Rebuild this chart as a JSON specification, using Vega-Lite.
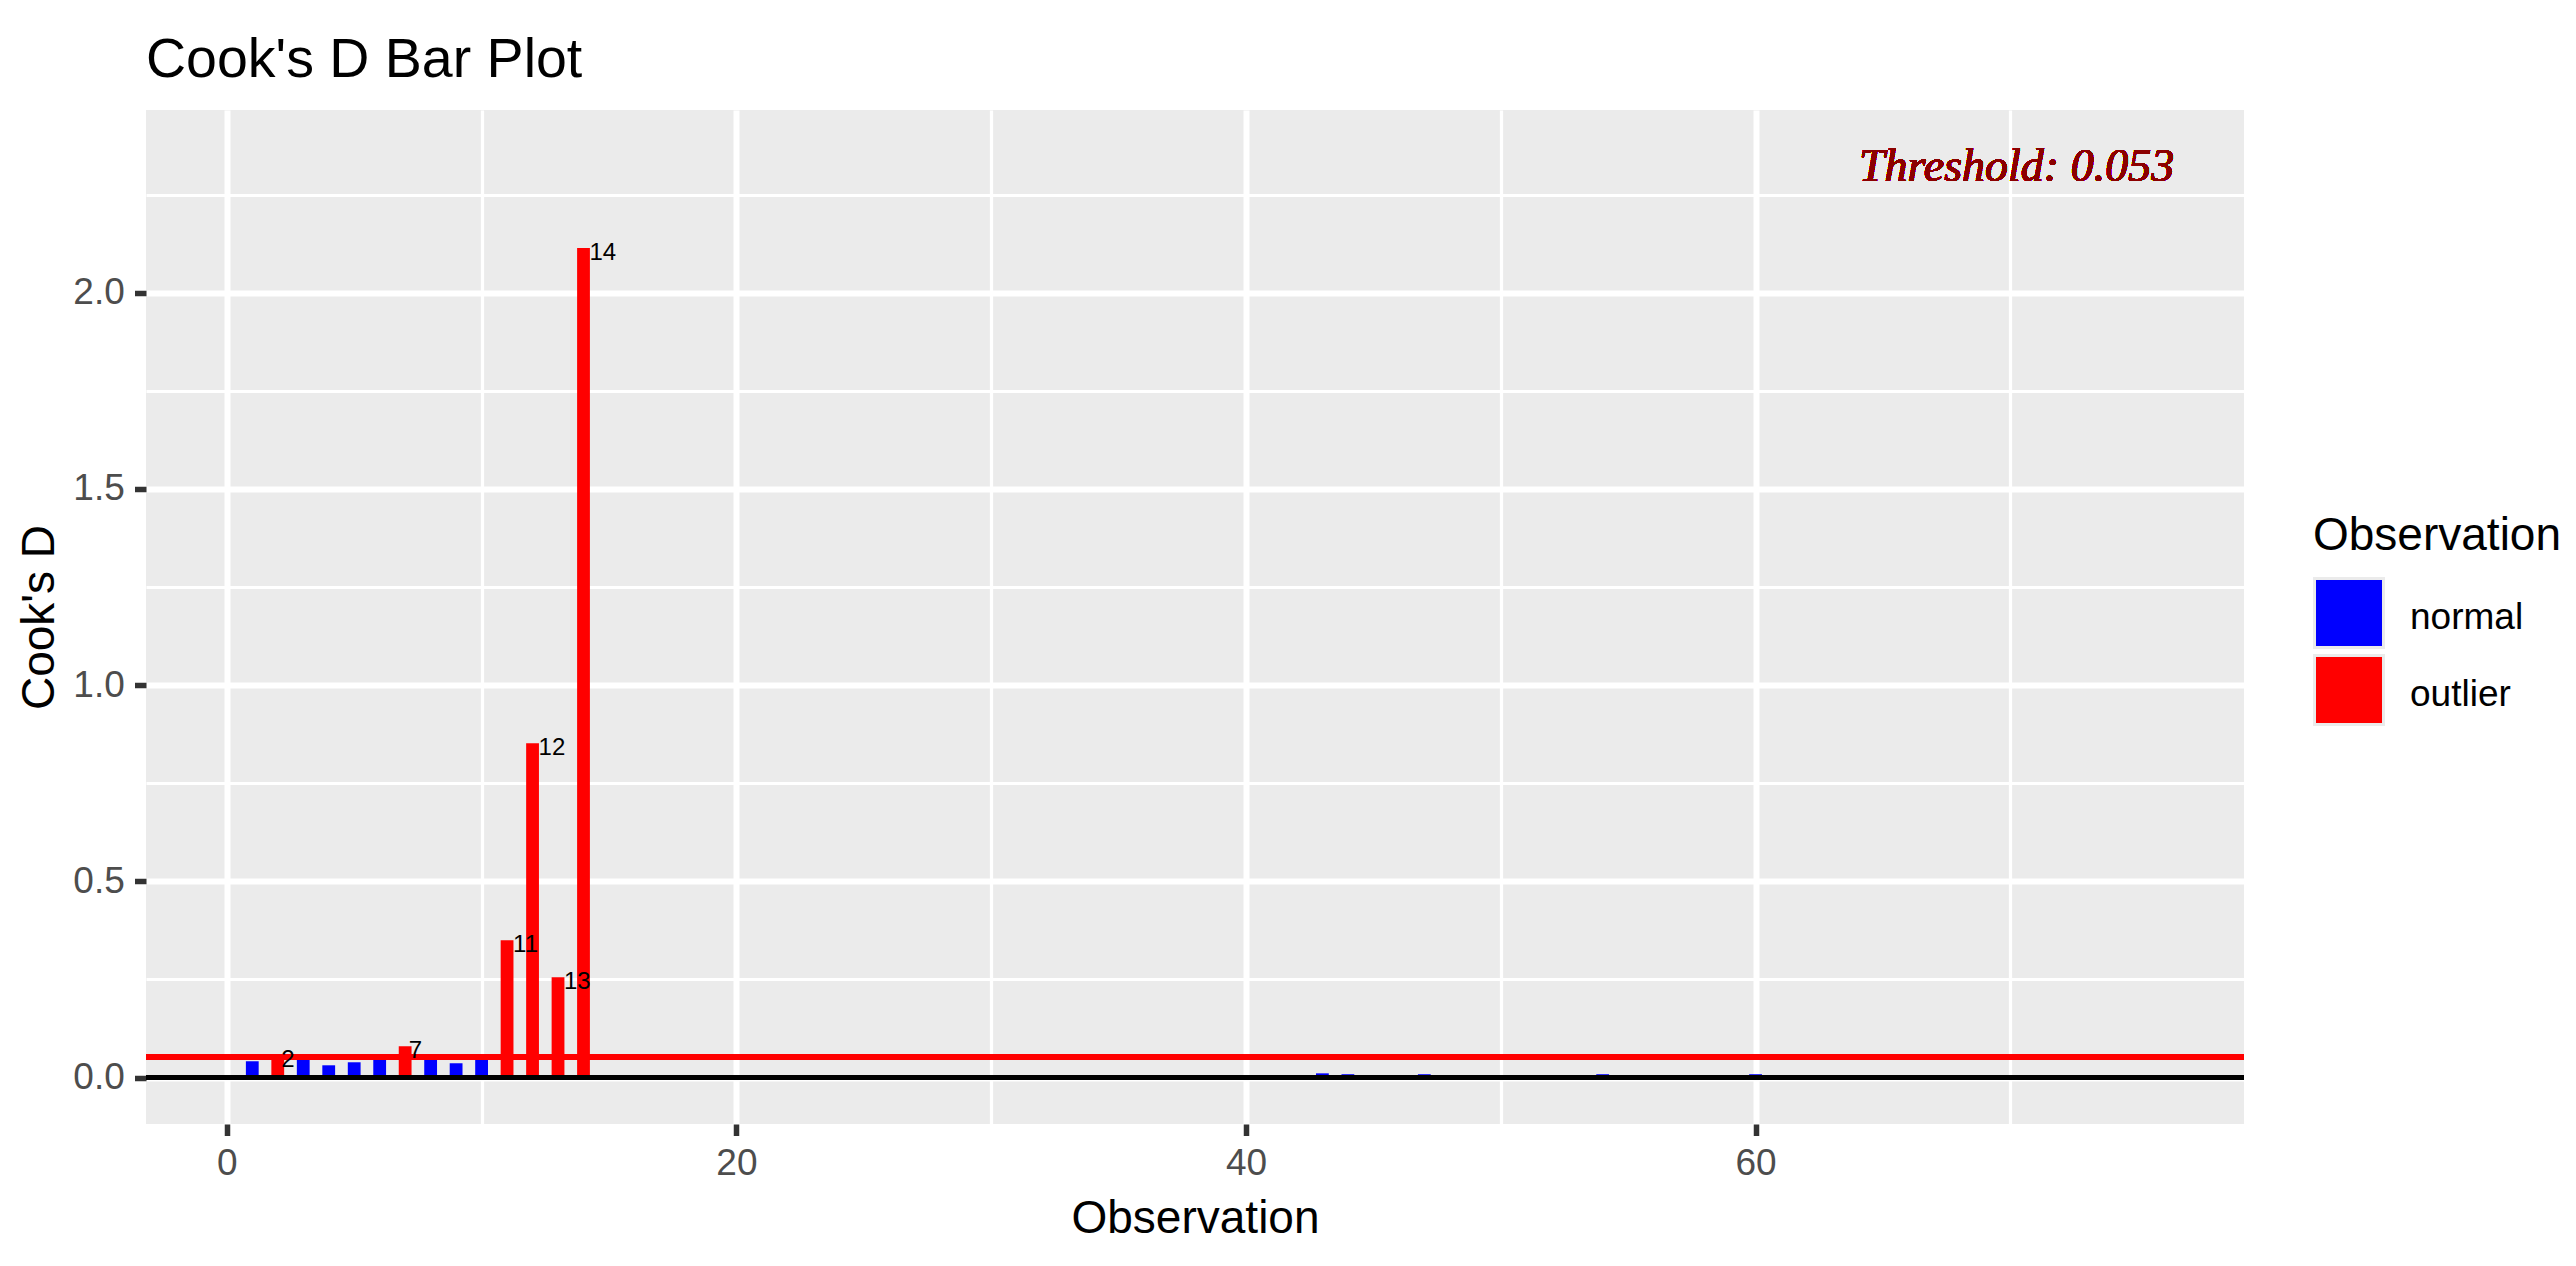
{
  "$schema": "https://vega.github.io/schema/vega-lite/v6.json",
  "width": 2098,
  "height": 1014,
  "autosize": {"type": "none"},
  "padding": {"left": 146, "top": 110, "right": 332, "bottom": 142},
  "background": "white",
  "config": {
    "view": {"fill": "#EBEBEB", "stroke": null},
    "font": "Liberation Sans"
  },
  "title": {
    "text": "Cook's D Bar Plot",
    "anchor": "start",
    "frame": "group",
    "font": "Liberation Sans",
    "fontSize": 55.5,
    "fontWeight": "normal",
    "color": "black",
    "baseline": "alphabetic",
    "offset": 34,
    "dy": 56
  },
  "datasets": {
    "cooks": [
      {"obs": 1, "cd": 0.0416, "status": "normal"},
      {"obs": 2, "cd": 0.0565, "status": "outlier"},
      {"obs": 3, "cd": 0.0490, "status": "normal"},
      {"obs": 4, "cd": 0.0313, "status": "normal"},
      {"obs": 5, "cd": 0.0390, "status": "normal"},
      {"obs": 6, "cd": 0.0485, "status": "normal"},
      {"obs": 7, "cd": 0.0798, "status": "outlier"},
      {"obs": 8, "cd": 0.0488, "status": "normal"},
      {"obs": 9, "cd": 0.0365, "status": "normal"},
      {"obs": 10, "cd": 0.0492, "status": "normal"},
      {"obs": 11, "cd": 0.350, "status": "outlier"},
      {"obs": 12, "cd": 0.852, "status": "outlier"},
      {"obs": 13, "cd": 0.2557, "status": "outlier"},
      {"obs": 14, "cd": 2.114, "status": "outlier"},
      {"obs": 15, "cd": 0.0021, "status": "normal"},
      {"obs": 16, "cd": 0.0008, "status": "normal"},
      {"obs": 17, "cd": 0.0013, "status": "normal"},
      {"obs": 18, "cd": 0.0030, "status": "normal"},
      {"obs": 19, "cd": 0.0005, "status": "normal"},
      {"obs": 20, "cd": 0.0017, "status": "normal"},
      {"obs": 21, "cd": 0.0024, "status": "normal"},
      {"obs": 22, "cd": 0.0009, "status": "normal"},
      {"obs": 23, "cd": 0.0012, "status": "normal"},
      {"obs": 24, "cd": 0.0035, "status": "normal"},
      {"obs": 25, "cd": 0.0006, "status": "normal"},
      {"obs": 26, "cd": 0.0019, "status": "normal"},
      {"obs": 27, "cd": 0.0028, "status": "normal"},
      {"obs": 28, "cd": 0.0011, "status": "normal"},
      {"obs": 29, "cd": 0.0004, "status": "normal"},
      {"obs": 30, "cd": 0.0022, "status": "normal"},
      {"obs": 31, "cd": 0.0015, "status": "normal"},
      {"obs": 32, "cd": 0.0007, "status": "normal"},
      {"obs": 33, "cd": 0.0032, "status": "normal"},
      {"obs": 34, "cd": 0.0010, "status": "normal"},
      {"obs": 35, "cd": 0.0018, "status": "normal"},
      {"obs": 36, "cd": 0.0026, "status": "normal"},
      {"obs": 37, "cd": 0.0005, "status": "normal"},
      {"obs": 38, "cd": 0.0014, "status": "normal"},
      {"obs": 39, "cd": 0.0029, "status": "normal"},
      {"obs": 40, "cd": 0.0008, "status": "normal"},
      {"obs": 41, "cd": 0.0020, "status": "normal"},
      {"obs": 42, "cd": 0.0033, "status": "normal"},
      {"obs": 43, "cd": 0.0108, "status": "normal"},
      {"obs": 44, "cd": 0.0086, "status": "normal"},
      {"obs": 45, "cd": 0.0025, "status": "normal"},
      {"obs": 46, "cd": 0.0012, "status": "normal"},
      {"obs": 47, "cd": 0.0086, "status": "normal"},
      {"obs": 48, "cd": 0.0031, "status": "normal"},
      {"obs": 49, "cd": 0.0009, "status": "normal"},
      {"obs": 50, "cd": 0.0016, "status": "normal"},
      {"obs": 51, "cd": 0.0027, "status": "normal"},
      {"obs": 52, "cd": 0.0006, "status": "normal"},
      {"obs": 53, "cd": 0.0019, "status": "normal"},
      {"obs": 54, "cd": 0.0086, "status": "normal"},
      {"obs": 55, "cd": 0.0013, "status": "normal"},
      {"obs": 56, "cd": 0.0030, "status": "normal"},
      {"obs": 57, "cd": 0.0007, "status": "normal"},
      {"obs": 58, "cd": 0.0022, "status": "normal"},
      {"obs": 59, "cd": 0.0015, "status": "normal"},
      {"obs": 60, "cd": 0.0086, "status": "normal"},
      {"obs": 61, "cd": 0.0010, "status": "normal"},
      {"obs": 62, "cd": 0.0034, "status": "normal"},
      {"obs": 63, "cd": 0.0018, "status": "normal"},
      {"obs": 64, "cd": 0.0005, "status": "normal"},
      {"obs": 65, "cd": 0.0024, "status": "normal"},
      {"obs": 66, "cd": 0.0011, "status": "normal"},
      {"obs": 67, "cd": 0.0028, "status": "normal"},
      {"obs": 68, "cd": 0.0008, "status": "normal"},
      {"obs": 69, "cd": 0.0017, "status": "normal"},
      {"obs": 70, "cd": 0.0036, "status": "normal"},
      {"obs": 71, "cd": 0.0012, "status": "normal"},
      {"obs": 72, "cd": 0.0021, "status": "normal"},
      {"obs": 73, "cd": 0.0006, "status": "normal"},
      {"obs": 74, "cd": 0.0026, "status": "normal"},
      {"obs": 75, "cd": 0.0014, "status": "normal"}
    ]
  },
  "data": {"name": "cooks"},
  "resolve": {"axis": {"x": "independent", "y": "independent"}},
  "layer": [
    {
      "mark": {"type": "point", "opacity": 0},
      "encoding": {
        "x": {
          "field": "obs", "type": "quantitative",
          "scale": {"domain": [-2.975, 78.975], "nice": false, "zero": false},
          "axis": {"orient": "bottom", "values": [10, 30, 50, 70], "grid": true, "gridColor": "white", "gridWidth": 3.2, "labels": false, "ticks": false, "domain": false, "title": null}
        },
        "y": {
          "field": "cd", "type": "quantitative",
          "scale": {"domain": [-0.1183, 2.4658], "nice": false, "zero": false},
          "axis": {"orient": "left", "values": [0.25, 0.75, 1.25, 1.75, 2.25], "grid": true, "gridColor": "white", "gridWidth": 3.2, "labels": false, "ticks": false, "domain": false, "title": null}
        }
      }
    },
    {
      "mark": {"type": "bar", "width": 12.8},
      "encoding": {
        "x": {
          "field": "obs", "type": "quantitative",
          "scale": {"domain": [-2.975, 78.975], "nice": false, "zero": false},
          "axis": {
            "orient": "bottom", "values": [0, 20, 40, 60], "format": "d",
            "grid": true, "gridColor": "white", "gridWidth": 6,
            "domain": false, "ticks": true, "tickSize": 11.5, "tickWidth": 5.5, "tickColor": "#333333",
            "labelFont": "Liberation Sans", "labelFontSize": 37, "labelColor": "#4D4D4D", "labelPadding": 10.3, "labelFlush": false, "labelOverlap": false,
            "title": "Observation", "titleFont": "Liberation Sans", "titleFontSize": 46, "titleFontWeight": "normal", "titleColor": "black",
            "titleBaseline": "alphabetic", "titleAlign": "center", "titleX": 1049, "titleY": 108
          }
        },
        "y": {
          "field": "cd", "type": "quantitative",
          "scale": {"domain": [-0.1183, 2.4658], "nice": false, "zero": false},
          "axis": {
            "orient": "left", "values": [0, 0.5, 1, 1.5, 2], "format": ".1f",
            "grid": true, "gridColor": "white", "gridWidth": 6,
            "domain": false, "ticks": true, "tickSize": 11.5, "tickWidth": 5.5, "tickColor": "#333333",
            "labelFont": "Liberation Sans", "labelFontSize": 37, "labelColor": "#4D4D4D", "labelPadding": 10.2, "labelOverlap": false,
            "title": "Cook's D", "titleFont": "Liberation Sans", "titleFontSize": 46, "titleFontWeight": "normal", "titleColor": "black",
            "titleAngle": -90, "titleBaseline": "alphabetic", "titleAlign": "center", "titleX": -93, "titleY": 507
          }
        },
        "color": {
          "field": "status", "type": "nominal",
          "scale": {"domain": ["normal", "outlier"], "range": ["#0000FF", "#FF0000"]},
          "legend": {
            "title": "Observation", "orient": "none", "legendX": 2167, "legendY": 404,
            "padding": 0,
            "titleFont": "Liberation Sans", "titleFontSize": 46, "titleFontWeight": "normal", "titleColor": "black", "titlePadding": 17, "titleLimit": 600,
            "labelFont": "Liberation Sans", "labelFontSize": 37, "labelColor": "black", "labelOffset": 25, "labelLimit": 400,
            "symbolType": "square", "symbolSize": 4761, "symbolOpacity": 1,
            "symbolStrokeColor": "#EBEBEB", "symbolStrokeWidth": 3,
            "rowPadding": -7,
            "encode": {
              "symbols": {"update": {"stroke": {"value": "#EBEBEB"}, "strokeWidth": {"value": 3}, "opacity": {"value": 1}}},
              "labels": {"update": {"dy": {"value": 5}}}
            }
          }
        }
      }
    },
    {
      "mark": {"type": "rule", "color": "black", "strokeWidth": 4.7},
      "encoding": {"y": {"datum": 0, "type": "quantitative", "axis": null}}
    },
    {
      "mark": {"type": "rule", "color": "#FF0000", "strokeWidth": 4.7},
      "encoding": {"y": {"datum": 0.053, "type": "quantitative", "axis": null}}
    },
    {
      "transform": [{"filter": "datum.status == 'outlier' && datum.obs < 10"}],
      "mark": {"type": "text", "align": "left", "baseline": "middle", "dx": 3.5, "dy": 4.5, "font": "Liberation Sans", "fontSize": 24, "color": "black"},
      "encoding": {
        "x": {"field": "obs", "type": "quantitative", "axis": null},
        "y": {"field": "cd", "type": "quantitative", "axis": null},
        "text": {"field": "obs", "type": "quantitative"}
      }
    },
    {
      "transform": [{"filter": "datum.status == 'outlier' && datum.obs >= 10"}],
      "mark": {"type": "text", "align": "left", "baseline": "middle", "dx": 6, "dy": 4.5, "font": "Liberation Sans", "fontSize": 24, "color": "black"},
      "encoding": {
        "x": {"field": "obs", "type": "quantitative", "axis": null},
        "y": {"field": "cd", "type": "quantitative", "axis": null},
        "text": {"field": "obs", "type": "quantitative"}
      }
    },
    {
      "mark": {"type": "text", "align": "right", "baseline": "alphabetic", "font": "Liberation Serif", "fontStyle": "italic", "fontWeight": "normal", "fontSize": 46, "color": "#8B0000", "text": "Threshold: 0.053"},
      "encoding": {
        "x": {"datum": 76.43, "type": "quantitative", "axis": null},
        "y": {"datum": 2.2855, "type": "quantitative", "axis": null}
      }
    }
  ]
}
